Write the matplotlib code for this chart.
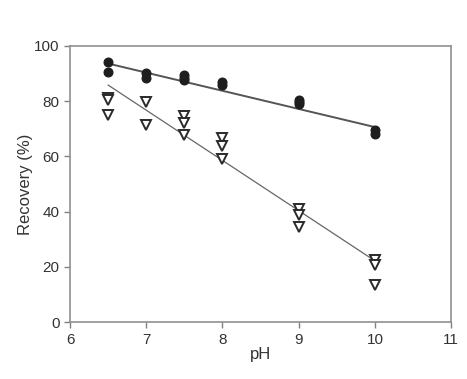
import numpy as np
from matplotlib import pyplot as plt

plt.rcParams['font.family'] = ['Liberation Sans', 'DejaVu Sans']

# closed circles
ph_c = [6.5, 6.5, 7, 7, 7.5, 7.5, 7.5, 8, 8, 9, 9, 9, 10, 10]
rec_c = [94.2, 90.6, 90.0, 88.5, 89.5, 88.2, 87.5, 87.0, 86.0, 80.5, 79.6, 79.0, 69.5, 68.2]

# open triangles
ph_t = [6.5, 6.5, 6.5, 7, 7, 7.5, 7.5, 7.5, 8, 8, 8, 9, 9, 9, 10, 10, 10]
rec_t = [81.3, 80.5, 74.8, 79.7, 71.5, 74.6, 72.0, 67.8, 66.8, 63.6, 59.0, 40.8, 38.8, 34.6, 22.6, 20.8, 13.6]

# fitted lines
fit_x = [6.5, 10]
fit_c = [93.6, 70.6]
fit_t = [85.8, 22.2]

fig = plt.figure(figsize=(4.67, 3.79), dpi=100)
ax = fig.add_axes([0.150, 0.150, 0.816, 0.729])

ax.plot(fit_x, fit_c, color='#555555', lw=1.4, zorder=2)
ax.plot(fit_x, fit_t, color='#666666', lw=0.9, zorder=2)
ax.plot(ph_c, rec_c, 'o', ms=6.2, color='#1e1e1e', mec='#1e1e1e', zorder=3)
ax.plot(ph_t, rec_t, 'v', ms=7.5, mfc='white', mec='#2a2a2a', mew=1.4, zorder=3)

ax.set_xlim(6, 11)
ax.set_ylim(0, 100)
ax.set_xticks([6, 7, 8, 9, 10, 11])
ax.set_yticks([0, 20, 40, 60, 80, 100])
ax.set_xlabel('pH', fontsize=12, color='#333333', labelpad=0)
ax.set_ylabel('Recovery (%)', fontsize=12, color='#333333', labelpad=1)
ax.tick_params(labelsize=11, labelcolor='#333333', color='#808080', length=4, width=1)
for s in ax.spines.values():
    s.set_color('#909090')
    s.set_linewidth(1.2)

fig.savefig('out.png', dpi=100)
